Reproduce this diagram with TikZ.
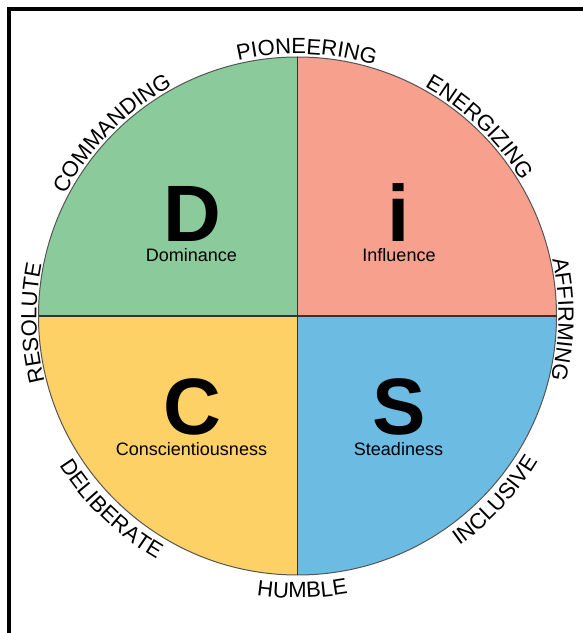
\documentclass[tikz,border=0pt]{standalone}
\usepackage{fontspec}
\setmainfont{Liberation Sans}
\usetikzlibrary{decorations.text}
\definecolor{dgreen}{HTML}{8BCB9B}
\definecolor{dsalmon}{HTML}{F6A08D}
\definecolor{dyellow}{HTML}{FED166}
\definecolor{dblue}{HTML}{6CBBE2}
\definecolor{edge}{HTML}{555555}
\newcommand\arcfont{\fontsize{22}{24}\selectfont}
\begin{document}
\begin{tikzpicture}[x=1pt,y=1pt,
  bigletter/.style={font=\fontsize{80}{80}\selectfont\bfseries, anchor=base, inner sep=0pt},
  sublabel/.style={font=\fontsize{18}{20}\selectfont, anchor=base, inner sep=0pt},
  cwtext/.style={decorate, decoration={text along path, text align=center, text={|\arcfont|#1}}},
  ccwtext/.style={decorate, decoration={text along path, text align=center, text={|\arcfont|#1}}}
]
\useasboundingbox (0,0) rectangle (583,633);
\fill[white] (0,0) rectangle (583,633);
\coordinate (C) at (297.5,317);
% quadrants
\fill[dgreen] (C) -- ([shift={(180:259pt)}]C) arc[start angle=180,end angle=90,radius=259pt] -- cycle;
\fill[dsalmon] (C) -- ([shift={(90:259pt)}]C) arc[start angle=90,end angle=0,radius=259pt] -- cycle;
\fill[dblue] (C) -- ([shift={(0:259pt)}]C) arc[start angle=0,end angle=-90,radius=259pt] -- cycle;
\fill[dyellow] (C) -- ([shift={(-90:259pt)}]C) arc[start angle=-90,end angle=-180,radius=259pt] -- cycle;
\draw[edge, line width=1pt] (C) circle[radius=259pt];
\coordinate (T) at ([shift={(90:259pt)}]C);
\coordinate (B) at ([shift={(-90:259pt)}]C);
\coordinate (L) at ([shift={(180:259pt)}]C);
\coordinate (R) at ([shift={(0:259pt)}]C);
\draw[black!80, line width=1.2pt] (T) -- (B);
\draw[black!80, line width=1.2pt] (L) -- (R);
% frame
\draw[black, line width=3.5pt] (9,0) -- (9,624) -- (583,624);
% letters
\node[bigletter] (D) at (192,391) {D};
\node[sublabel] (Dl) at (191.5,371) {Dominance};
\node[bigletter] (I) at (399,391) {i};
\node[sublabel] (Il) at (399,371) {Influence};
\node[bigletter] (Cc) at (192,198) {C};
\node[sublabel] (Cl) at (191.5,177) {Conscientiousness};
\node[bigletter] (S) at (399,198) {S};
\node[sublabel] (Sl) at (398.5,177) {Steadiness};
% arc texts, clockwise (tops outward)
\path[cwtext=PIONEERING] ([shift={(128:262pt)}]C) arc[start angle=128,end angle=48,radius=262pt];
\path[cwtext=ENERGIZING] ([shift={(86:262pt)}]C) arc[start angle=86,end angle=6,radius=262pt];
\path[cwtext=AFFIRMING] ([shift={(39.3:261pt)}]C) arc[start angle=39.3,end angle=-40.7,radius=261pt];
\path[cwtext=RESOLUTE] ([shift={(221.5:261pt)}]C) arc[start angle=221.5,end angle=141.5,radius=261pt];
\path[cwtext=COMMANDING] ([shift={(175.5:262pt)}]C) arc[start angle=175.5,end angle=95.5,radius=262pt];
% arc texts, counterclockwise (tops inward)
\path[ccwtext=INCLUSIVE] ([shift={(-83:281pt)}]C) arc[start angle=-83,end angle=-3,radius=281pt];
\path[ccwtext=HUMBLE] ([shift={(-129:282pt)}]C) arc[start angle=-129,end angle=-49,radius=282pt];
\path[ccwtext=DELIBERATE] ([shift={(-174:281pt)}]C) arc[start angle=-174,end angle=-94,radius=281pt];
\end{tikzpicture}
\end{document}
